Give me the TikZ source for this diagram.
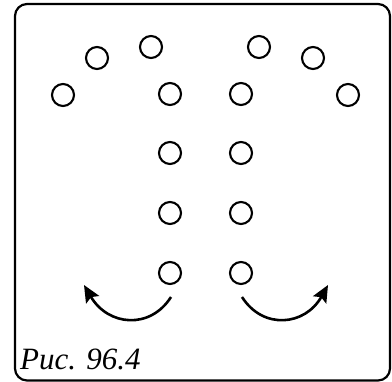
\documentclass[tikz,border=0pt]{standalone}
\usepackage{fontspec}
\setmainfont{Liberation Serif}
\usetikzlibrary{arrows.meta}
\begin{document}
\begin{tikzpicture}[x=1pt,y=-1pt,
  dot/.style={circle,draw,line width=2.1pt,minimum size=22pt,inner sep=0pt},
  turn/.style={line width=2.6pt,-{Stealth[length=17pt,width=15pt,inset=3pt]}},
  frame/.style={line width=2.2pt,rounded corners=12pt}]
\useasboundingbox (0,0) rectangle (392,382);
\draw[frame] (15,4) rectangle (390,380.5);
% upper arcs
\node[dot] (a1) at (63,95) {};
\node[dot] (a2) at (97,58) {};
\node[dot] (a3) at (151,47) {};
\node[dot] (b3) at (259,47) {};
\node[dot] (b2) at (313,58) {};
\node[dot] (b1) at (348,95) {};
% columns
\node[dot] (l1) at (170,94) {};
\node[dot] (l2) at (170,153) {};
\node[dot] (l3) at (170,213) {};
\node[dot] (l4) at (170,273) {};
\node[dot] (r1) at (241,94) {};
\node[dot] (r2) at (241,153) {};
\node[dot] (r3) at (241,213) {};
\node[dot] (r4) at (241,273) {};
% arrows
\coordinate (ls) at (171,297);
\coordinate (le) at (84,285);
\coordinate (rs) at (242,297);
\coordinate (re) at (328,285);
\draw[turn] (ls) .. controls (150,330) and (108,326) .. (le);
\draw[turn] (rs) .. controls (263,330) and (305,326) .. (re);
\node[anchor=base west,inner sep=0pt,font=\fontsize{31}{31}\selectfont\itshape] (cap) at (20,370) {Puc. 96.4};
\end{tikzpicture}
\end{document}
